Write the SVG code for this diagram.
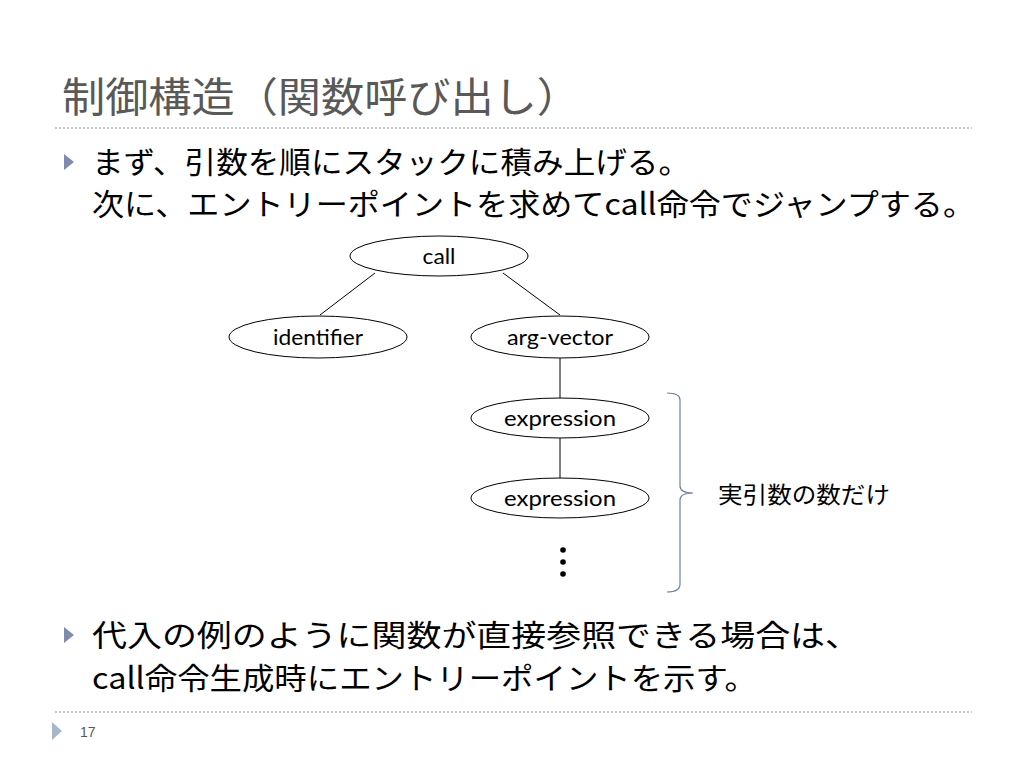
<svg xmlns="http://www.w3.org/2000/svg" width="1024" height="768" viewBox="0 0 1024 768">
<style>
.jp{font-family:"Noto Sans CJK JP","Liberation Sans",sans-serif;}
.title{font-size:41px;fill:#595959;}
.body{font-size:30px;fill:#000;}
.node ellipse{fill:#fff;stroke:#000;stroke-width:1;}
.node text{font-family:Lato,"Open Sans",sans-serif;font-size:22px;fill:#000;text-anchor:middle;}
.edge{stroke:#000;stroke-width:1;fill:none;}
.rule{stroke:#a9b7c6;stroke-width:1.3;stroke-dasharray:2 2;}
.bul{fill:#7d8cab;}
</style>
<rect width="1024" height="768" fill="#fff"/>
<text class="jp title" x="62" y="112" textLength="518" lengthAdjust="spacingAndGlyphs">制御構造（関数呼び出し）</text>
<line class="rule" x1="55" y1="128" x2="972" y2="128"/>
<polygon class="bul" points="64,154 74,162 64,170"/>
<text class="jp body" x="92" y="173" textLength="598" lengthAdjust="spacingAndGlyphs">まず、引数を順にスタックに積み上げる。</text>
<text class="jp body" x="92" y="215" textLength="883" lengthAdjust="spacingAndGlyphs">次に、エントリーポイントを求めてcall命令でジャンプする。</text>
<g id="connectors">
<line class="edge" x1="375" y1="273" x2="320" y2="315"/>
<line class="edge" x1="503" y1="273" x2="560" y2="315"/>
<line class="edge" x1="560" y1="358" x2="560" y2="398"/>
<line class="edge" x1="560" y1="438" x2="560" y2="478"/>
</g>
<g id="call" class="node"><ellipse cx="439" cy="256" rx="89" ry="20"/><text x="439" y="264" textLength="33" lengthAdjust="spacingAndGlyphs">call</text></g>
<g id="identifier" class="node"><ellipse cx="318" cy="337" rx="89" ry="21"/><text x="318" y="345" textLength="90" lengthAdjust="spacingAndGlyphs">identifier</text></g>
<g id="arg-vector" class="node"><ellipse cx="560" cy="337" rx="89" ry="21"/><text x="560" y="345" textLength="106" lengthAdjust="spacingAndGlyphs">arg-vector</text></g>
<g id="expression1" class="node"><ellipse cx="560" cy="418" rx="89" ry="20"/><text x="560" y="426" textLength="112" lengthAdjust="spacingAndGlyphs">expression</text></g>
<g id="expression2" class="node"><ellipse cx="560" cy="498" rx="89" ry="20"/><text x="560" y="506" textLength="112" lengthAdjust="spacingAndGlyphs">expression</text></g>
<g id="ellipsis" fill="#000">
<circle cx="563" cy="550" r="2.8"/>
<circle cx="563" cy="562" r="2.8"/>
<circle cx="563" cy="574" r="2.8"/>
</g>
<g id="brace">
<path d="M667,393 Q680,393 680,400 L680,486 Q680,493 693,493 Q680,493 680,500 L680,584 Q680,592 667,592" fill="none" stroke="#6f7fa0" stroke-width="1.2"/>
<text class="jp" x="718" y="503" font-size="23" textLength="172" lengthAdjust="spacingAndGlyphs">実引数の数だけ</text>
</g>
<polygon class="bul" points="64,627 74,635 64,643"/>
<text class="jp body" x="92" y="646" textLength="768" lengthAdjust="spacingAndGlyphs">代入の例のように関数が直接参照できる場合は、</text>
<text class="jp body" x="92" y="689" textLength="665" lengthAdjust="spacingAndGlyphs">call命令生成時にエントリーポイントを示す。</text>
<line class="rule" x1="55" y1="712" x2="972" y2="712"/>
<polygon points="52,722 62,731 52,740" fill="#a7b6cc"/>
<text x="80" y="737" font-family="Liberation Sans,sans-serif" font-size="14" fill="#595959">17</text>
</svg>
